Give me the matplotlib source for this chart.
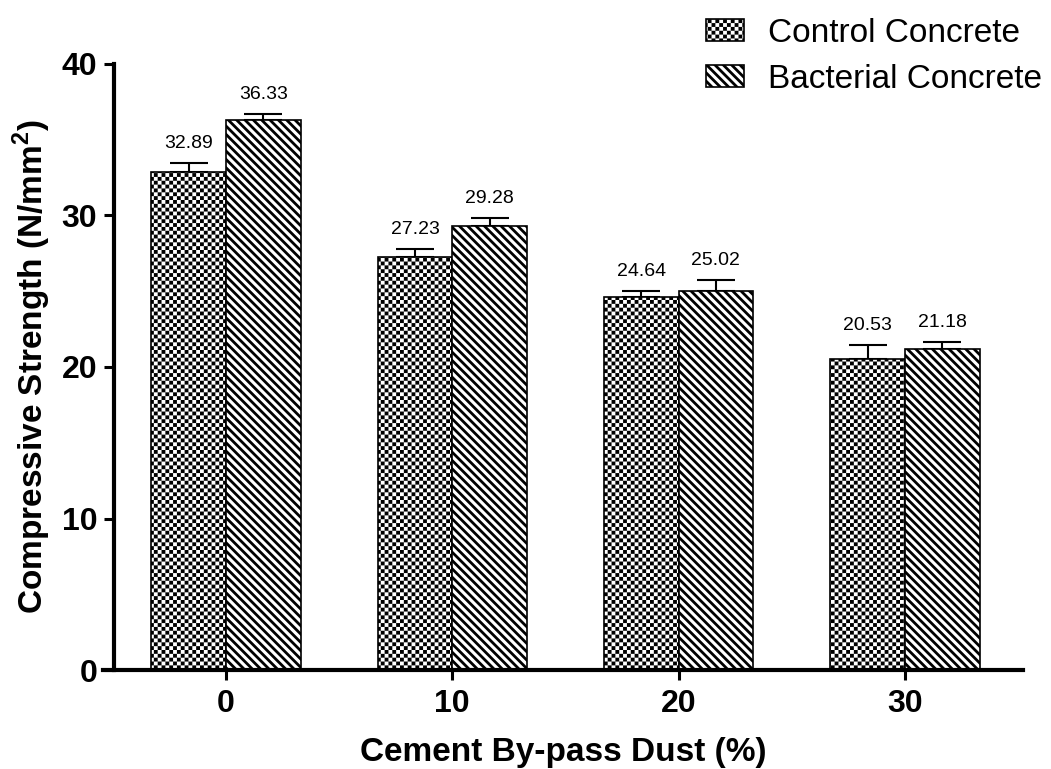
import numpy as np
import matplotlib
matplotlib.use('Agg')
import matplotlib.pyplot as plt
from matplotlib import hatch as mhatch
from matplotlib.path import Path

# ---- data -------------------------------------------------------------
dust_levels = ['0', '10', '20', '30']
control_strength = [32.89, 27.23, 24.64, 20.53]
bacterial_strength = [36.33, 29.28, 25.02, 21.18]
control_err = [0.55, 0.56, 0.40, 0.92]
bacterial_err = [0.35, 0.57, 0.73, 0.49]
series_names = ['Control Concrete', 'Bacterial Concrete']
y_ticks = [0, 10, 20, 30, 40]

# ---- style ------------------------------------------------------------
HATCH_LW = 2.0
plt.rcParams['hatch.linewidth'] = HATCH_LW
plt.rcParams['hatch.color'] = 'black'
plt.rcParams['font.family'] = ['Liberation Sans', 'DejaVu Sans']
plt.rcParams['mathtext.fontset'] = 'custom'
plt.rcParams['mathtext.rm'] = 'Liberation Sans'
plt.rcParams['mathtext.bf'] = 'Liberation Sans:bold'


class CheckerHatch(mhatch.HatchPatternBase):
    """Filled-square checkerboard hatch, used in place of the '*' pattern."""
    CELLS = 26

    def __init__(self, hatch, density):
        self.num_vertices = (self.CELLS ** 2 // 2) * 5 if '*' in hatch else 0

    def set_vertices_and_codes(self, vertices, codes):
        n = self.CELLS
        cell = 1.0 / n
        # Agg fills and strokes hatch paths, so shrink each square by the
        # stroke width (hatch tile is one inch, i.e. 72 pt).
        stroke = HATCH_LW / 72.0
        half = max(cell - stroke, 0.002) / 2.0
        k = 0
        for i in range(n):
            for j in range(n):
                if (i + j) % 2:
                    continue
                cx, cy = (i + 0.5) * cell, (j + 0.5) * cell
                vertices[k:k + 5] = [(cx - half, cy - half), (cx + half, cy - half),
                                     (cx + half, cy + half), (cx - half, cy + half),
                                     (cx - half, cy - half)]
                codes[k:k + 5] = [Path.MOVETO, Path.LINETO, Path.LINETO,
                                  Path.LINETO, Path.CLOSEPOLY]
                k += 5


mhatch._hatch_types = [h for h in mhatch._hatch_types if h is not mhatch.Stars] + [CheckerHatch]

# ---- figure -----------------------------------------------------------
fig = plt.figure(figsize=(10.51, 7.69), dpi=100)
ax = fig.add_axes([103 / 1051, 99 / 769, 920 / 1051, 606 / 769])

x = np.arange(len(dust_levels))
w = 0.33

b1 = ax.bar(x - w / 2, control_strength, w, color='white', edgecolor='black',
            linewidth=1.2, hatch='*', zorder=2)
b2 = ax.bar(x + w / 2, bacterial_strength, w, color='white', edgecolor='black',
            linewidth=1.2, hatch='\\\\\\\\', zorder=2)

for xs, vals, errs in ((x - w / 2, control_strength, control_err),
                       (x + w / 2, bacterial_strength, bacterial_err)):
    ax.errorbar(xs, vals, yerr=[np.zeros(len(vals)), errs], fmt='none',
                ecolor='black', elinewidth=1.5, capsize=14, capthick=1.5, zorder=1)
    for xi, v, e in zip(xs, vals, errs):
        ax.annotate(f'{v:.2f}', (xi, v + e), xytext=(0, 8), textcoords='offset points',
                    ha='center', va='bottom', fontsize=14)

ax.set_xlim(-0.5435, 3.522)
ax.set_ylim(0, 40)

for side in ('top', 'right'):
    ax.spines[side].set_visible(False)
ax.spines['left'].set_position(('data', -0.495))
for side in ('left', 'bottom'):
    ax.spines[side].set_linewidth(3)
    ax.spines[side].set_capstyle('projecting')

ax.set_yticks(y_ticks, [str(t) for t in y_ticks], fontsize=23, fontweight='bold')
ax.set_xticks(x, dust_levels, fontsize=23, fontweight='bold')
ax.tick_params(axis='both', direction='out', length=7, width=2.2)
ax.tick_params(axis='x', pad=7)
ax.tick_params(axis='y', pad=5)

ax.set_ylabel(r'Compressive Strength (N/mm$^\mathbf{2}$)', fontsize=24,
              fontweight='bold', labelpad=6)
ax.set_xlabel('Cement By-pass Dust (%)', fontsize=24, fontweight='bold', labelpad=13)

fig.legend(handles=[b1, b2], labels=series_names, loc='upper left',
           bbox_to_anchor=(706 / 1051, 1 - 18 / 769), frameon=False, fontsize=24,
           handlelength=1.15, handleheight=0.62, handletextpad=0.7,
           labelspacing=0.45, borderpad=0, borderaxespad=0)

fig.savefig('out.png', dpi=100)
